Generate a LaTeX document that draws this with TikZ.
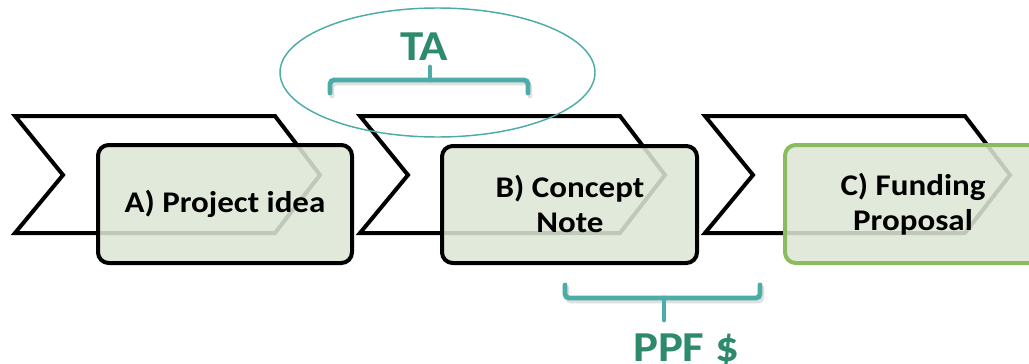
\documentclass[tikz,border=0pt]{standalone}
\usepackage{fontspec}
\setmainfont{Carlito}[FakeStretch=1.1]
\definecolor{boxfill}{RGB}{221,231,213}
\definecolor{tealline}{RGB}{75,172,168}
\definecolor{tagtext}{RGB}{46,138,108}
\definecolor{greenborder}{RGB}{140,187,95}
\tikzset{every picture/.style={line width=0.75pt}}
\tikzset{
  chevron/.style={line width=3pt, line join=miter},
  stagebox/.style={line width=3pt, rounded corners=8pt, fill=boxfill, fill opacity=0.87},
  bracket/.style={tealline, line width=3.6pt, line cap=round, rounded corners=3pt},
  bracketshadow/.style={black!35, opacity=0.35, line width=3.6pt, line cap=round, rounded corners=3pt},
  stagetext/.style={align=center, font=\bfseries\fontsize{22.5}{26.5}\selectfont},
  tagfont/.style={text=tagtext, font=\bfseries\fontsize{32}{36}\selectfont}
}

\begin{document}
\begin{tikzpicture}[x=0.75pt,y=0.75pt,yscale=-1,xscale=1]
\path [use as bounding box] (0,0) rectangle (1029,364);
\clip (0,0) rectangle (1029,364);

%Shape: Chevron [stage A]
\draw [chevron] (15,116) -- (275,116) -- (320,175) -- (275,233) -- (15,233) -- (63,175) -- cycle ;
%Shape: Chevron [stage B]
\draw [chevron] (360,116) -- (620,116) -- (665,175) -- (620,233) -- (360,233) -- (408,175) -- cycle ;
%Shape: Chevron [stage C]
\draw [chevron] (705,116) -- (965,116) -- (1010,175) -- (965,233) -- (705,233) -- (753,175) -- cycle ;

%Shape: Rounded Rectangle [stage A]
\draw [stagebox] (98,145) rectangle (352,263) ;
%Shape: Rounded Rectangle [stage B]
\draw [stagebox] (442,146) rectangle (697,263) ;
%Shape: Rounded Rectangle [stage C]
\draw [stagebox, draw=greenborder] (785,145) rectangle (1045,263) ;

%Shape: Ellipse [TA]
\draw [tealline, line width=1.1pt] (437.5,72.5) ellipse [x radius=157.5, y radius=64.5] ;

%Shape: Brace [TA]
\draw [bracketshadow] (332,96) -- (332,83) -- (530,83) -- (530,96) ;
\draw [bracket] (330,93) -- (330,80) -- (528,80) -- (528,93) ;
\draw [bracket] (430,80) -- (430,67) ;
%Shape: Brace [PPF]
\draw [bracketshadow] (567,288) -- (567,301) -- (762,301) -- (762,288) ;
\draw [bracket] (565,285) -- (565,298) -- (760,298) -- (760,285) ;
\draw [bracket] (664,298) -- (664,320) ;

% Text Node
\node [stagetext] (ideaA) at (225,204) {A) Project idea};
% Text Node
\node [stagetext] (noteB) at (570,204) {B) Concept\\Note};
% Text Node
\node [stagetext] (fundC) at (913,204) {C) Funding\\Proposal};
% Text Node
\node [tagfont] (ta) at (424,47) {TA};
% Text Node
\node [tagfont] (ppf) at (686,350) {PPF \$};

\end{tikzpicture}
\end{document}
